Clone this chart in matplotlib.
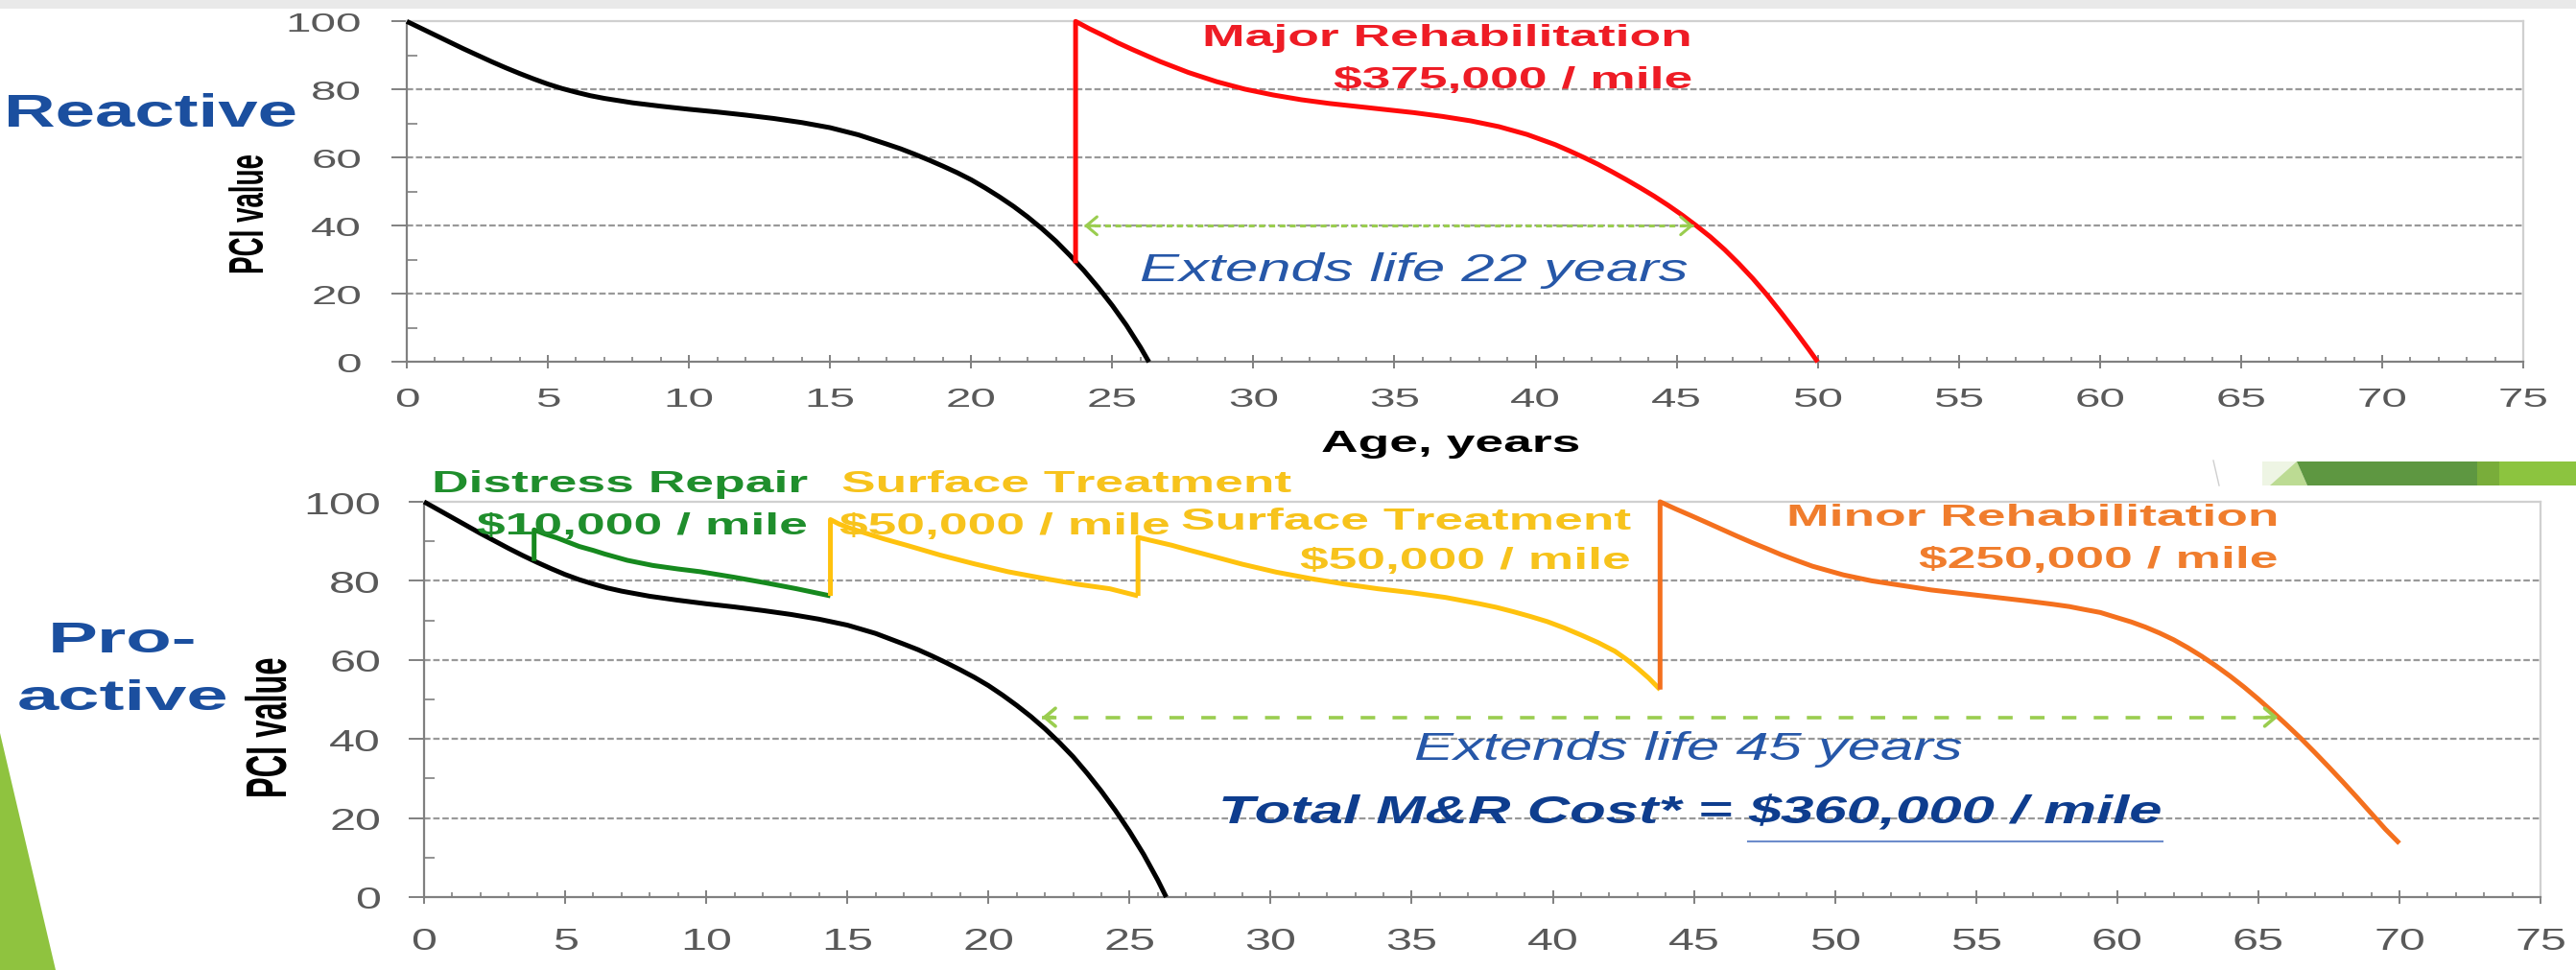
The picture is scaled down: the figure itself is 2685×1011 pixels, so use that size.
import os
import tempfile
import matplotlib
matplotlib.use("Agg")
import matplotlib.pyplot as plt
from matplotlib import font_manager
from matplotlib.font_manager import FontProperties
from matplotlib.ticker import MultipleLocator
from matplotlib.patches import Polygon, Rectangle

# ---------------- data ----------------
x_ticks = [0, 5, 10, 15, 20, 25, 30, 35, 40, 45, 50, 55, 60, 65, 70, 75]
y_ticks = [0, 20, 40, 60, 80, 100]

# do-nothing deterioration curve (black)
base_age = [0, 0.5, 1, 1.5, 2, 2.5, 3, 3.5, 4, 4.5, 5, 5.5, 6, 6.5, 7, 8, 9, 10,
            11, 12, 13, 14, 15, 16, 17, 17.5, 18, 18.5, 19, 19.5, 20, 20.5,
            21, 21.5, 22, 22.5, 23, 23.5, 24, 24.5, 25, 25.5, 26, 26.3]
base_pci = [100, 98.0, 96.0, 94.0, 92.0, 90.1, 88.2, 86.4, 84.7, 83.1, 81.6,
            80.3, 79.2, 78.2, 77.4, 76.1, 75.1, 74.2, 73.4, 72.5, 71.5, 70.3,
            68.8, 66.7, 64.0, 62.6, 61.0, 59.3, 57.5, 55.6, 53.5, 51.1, 48.5,
            45.7, 42.6, 39.2, 35.5, 31.3, 26.8, 21.9, 16.6, 10.8, 4.3, 0.0]

# reactive: major rehabilitation (red)
major_age = [23.7, 23.7, 24.2, 24.7, 25.2, 25.7, 26.7, 27.7, 28.7, 29.7, 30.7,
             31.7, 32.7, 33.7, 34.7, 35.7, 36.7, 37.7, 38.7, 39.7, 40.7, 41.2,
             41.7, 42.2, 42.7, 43.2, 43.7, 44.2, 44.7, 45.2, 45.7, 46.2, 46.7,
             47.2, 47.7, 48.2, 48.7, 49.2, 49.7, 50.0]
major_pci = [29.0, 100, 97.8, 95.8, 93.7, 91.8, 88.2, 85.0, 82.3, 80.1, 78.4,
             77.0, 75.9, 75.0, 74.1, 73.2, 72.1, 70.8, 69.1, 66.8, 63.8, 62.0,
             60.1, 58.1, 55.9, 53.6, 51.2, 48.7, 46.0, 43.1, 40.0, 36.7, 33.0,
             28.9, 24.5, 19.7, 14.5, 9.1, 3.5, 0.0]

# pro-active: distress repair (green)
distress_age = [3.9, 3.9, 4.3, 4.7, 5.1, 5.5, 6.0, 6.4, 7.2, 8.1, 9.0, 9.8,
                11.0, 12.1, 13.2, 14.4]
distress_pci = [85.0, 92.9, 91.8, 90.9, 89.8, 88.7, 87.7, 86.8, 85.2, 83.9,
                83.0, 82.3, 80.9, 79.5, 78.0, 76.2]

# pro-active: surface treatments (yellow)
surface1_age = [14.4, 14.4, 14.7, 15.1, 15.5, 16.3, 17.1, 18.3, 19.5, 20.7,
                21.9, 23.1, 24.3, 25.3]
surface1_pci = [76.2, 95.5, 94.4, 93.3, 92.4, 90.6, 89.0, 86.5, 84.3, 82.3,
                80.7, 79.2, 78.0, 76.2]
surface2_age = [25.3, 25.3, 25.9, 26.5, 27.0, 27.9, 29.0, 30.2, 31.4, 32.6,
                33.8, 35.0, 36.2, 37.4, 38.0, 38.6, 39.2, 39.8, 40.4, 41.0,
                41.6, 42.2, 42.6, 43.0, 43.4, 43.8]
surface2_pci = [76.2, 91.0, 90.0, 89.0, 88.0, 86.3, 84.2, 82.2, 80.6, 79.2,
                78.0, 77.0, 75.8, 74.2, 73.3, 72.2, 71.0, 69.7, 68.1, 66.3,
                64.4, 62.2, 60.2, 57.9, 55.4, 52.5]

# pro-active: minor rehabilitation (orange)
minor_age = [43.8, 43.8, 44.35, 44.9, 45.5, 46.0, 46.5, 47.05, 47.6, 48.1,
             48.7, 49.2, 49.8, 50.3, 51.3, 52.4, 53.4, 54.5, 55.6, 56.7, 57.7,
             58.3, 58.8, 59.4, 59.9, 60.5, 61.0, 61.5, 62.0, 62.5, 63.0, 63.5,
             64.0, 64.5, 65.0, 65.5, 66.0, 66.5, 67.0, 67.5, 68.0, 68.5, 69.0,
             69.5, 70.0]
minor_pci = [52.5, 100, 98.2, 96.5, 94.6, 93.0, 91.4, 89.7, 88.1, 86.6, 85.0,
             83.7, 82.5, 81.5, 80.0, 78.8, 77.7, 76.8, 75.9, 75.0, 74.1, 73.5,
             72.8, 72.0, 70.9, 69.6, 68.3, 66.8, 65.1, 63.1, 60.9, 58.5, 55.9,
             53.1, 50.1, 46.9, 43.6, 40.2, 36.6, 32.9, 29.1, 25.2, 21.2, 17.2,
             13.6]

# life-extension spans (age from, age to) and PCI level
extend_top_age = [24.0, 45.6]
extend_top_pci = 40
extend_bottom_age = [21.9, 65.7]
extend_bottom_pci = 45.5

# ---------------- stretched fonts (the slide image is stretched horizontally) ----
FONT_DIR = tempfile.mkdtemp()
FONT_SPECS = {
    "bold175": ("bold", "normal", 1.75, 1.0),
    "bold153": ("bold", "normal", 1.53, 1.0),
    "ital153": ("normal", "italic", 1.53, 1.0),
    "bital153": ("bold", "italic", 1.53, 1.0),
    "reg175": ("normal", "normal", 1.75, 1.0),
    "reg155": ("normal", "normal", 1.55, 1.0),
    "tall180": ("bold", "normal", 1.0, 1.8),
}
FONTS = {}


def make_font(tag, weight, style, sx, sy):
    try:
        from fontTools.ttLib import TTFont
        from fontTools.ttLib.tables import ttProgram
        src = font_manager.findfont(
            FontProperties(family="Liberation Sans", weight=weight, style=style),
            fallback_to_default=False)
        f = TTFont(src)
        glyf = f["glyf"]
        hmtx = f["hmtx"]
        order = f.getGlyphOrder()
        for gname in order:
            g = glyf[gname]
            if g.isComposite():
                for c in g.components:
                    c.x = int(round(c.x * sx))
                    c.y = int(round(c.y * sy))
            elif g.numberOfContours > 0:
                coords = g.coordinates
                for i in range(len(coords)):
                    x, y = coords[i]
                    coords[i] = (int(round(x * sx)), int(round(y * sy)))
            if hasattr(g, "program"):
                p = ttProgram.Program()
                p.fromBytecode(b"")
                g.program = p
        for gname in order:
            g = glyf[gname]
            adv, lsb = hmtx.metrics[gname]
            if g.numberOfContours != 0:
                g.recalcBounds(glyf)
                lsb = g.xMin
            else:
                lsb = int(round(lsb * sx))
            hmtx.metrics[gname] = (int(round(adv * sx)), lsb)
        if sy != 1.0:
            hh = f["hhea"]
            hh.ascent = int(round(hh.ascent * sy))
            hh.descent = int(round(hh.descent * sy))
            os2 = f["OS/2"]
            os2.sTypoAscender = int(round(os2.sTypoAscender * sy))
            os2.sTypoDescender = int(round(os2.sTypoDescender * sy))
            os2.usWinAscent = int(round(os2.usWinAscent * sy))
            os2.usWinDescent = int(round(os2.usWinDescent * sy))
        for t in ["fpgm", "prep", "cvt ", "hdmx", "LTSH", "VDMX", "kern", "GPOS", "DSIG"]:
            if t in f:
                del f[t]
        fam = "RS" + tag
        name = f["name"]
        for nid in (16, 17, 21, 22):
            name.removeNames(nameID=nid)
        sub = name.getDebugName(2) or "Regular"
        for rec in name.names:
            if rec.nameID == 1:
                rec.string = fam
            elif rec.nameID == 3:
                rec.string = fam + "-" + sub
            elif rec.nameID == 4:
                rec.string = fam + " " + sub
            elif rec.nameID == 6:
                rec.string = fam + "-" + sub.replace(" ", "")
        path = os.path.join(FONT_DIR, fam + ".ttf")
        f.save(path)
        return path
    except Exception:
        return None


for _tag, (_w, _s, _sx, _sy) in FONT_SPECS.items():
    FONTS[_tag] = make_font(_tag, _w, _s, _sx, _sy)


def fp(tag, size):
    path = FONTS.get(tag)
    if path:
        return FontProperties(fname=path, size=size)
    w, s = FONT_SPECS[tag][0], FONT_SPECS[tag][1]
    return FontProperties(family="DejaVu Sans", weight=w, style=s, size=size)


# ---------------- colours ----------------
C_BLACK = "#000000"
C_RED = "#ff0a0a"
C_RED_T = "#ee1c25"
C_GREEN = "#16891e"
C_GREEN_T = "#1f8e2c"
C_YEL = "#ffc20e"
C_YEL_T = "#f7c31c"
C_ORG = "#f4701e"
C_ORG_T = "#f07d2d"
C_ARROW = "#9acd4f"
C_BLUE_I = "#2657a8"
C_NAVY = "#0e3d8e"
C_TITLE = "#1b4f9f"
C_GRID = "#999999"
C_AX = "#808080"
C_TICKLBL = "#595959"
LW = 3.6

W, H = 2685, 1012
fig = plt.figure(figsize=(W / 100, H / 100), dpi=100, facecolor="white")

# slide decoration
bg = fig.add_axes([0, 0, 1, 1], zorder=-5)
bg.set_xlim(0, W)
bg.set_ylim(H, 0)
bg.axis("off")
bg.add_patch(Rectangle((0, 0), W, 10, color="#e9e9e9", lw=0))
bg.add_patch(Polygon([(0, 765), (0, H), (58, H)], closed=True, color="#8fc33f", lw=0))
bg.add_patch(Rectangle((2358, 482), 40, 25, color="#eef5e4", lw=0))
bg.add_patch(Polygon([(2366, 507), (2394, 482), (2405, 507)], closed=True, color="#bcdb93", lw=0))
bg.add_patch(Polygon([(2394, 482), (2582, 482), (2582, 507), (2405, 507)], closed=True,
                     color="#5e9741", lw=0))
bg.add_patch(Rectangle((2582, 482), 23, 25, color="#79ad3a", lw=0))
bg.add_patch(Rectangle((2605, 482), 80, 25, color="#8cc43f", lw=0))
bg.plot([2307, 2313], [481, 507], color="#cfcfcf", lw=1)

ax1 = fig.add_axes([424 / W, 1 - 378.3 / H, 2206 / W, 355 / H])
ax2 = fig.add_axes([442 / W, 1 - 936 / H, 2206 / W, 412 / H])


def style_axes(ax, tick_fp, xpad, ypad):
    ax.set_xlim(0, 75)
    ax.set_ylim(0, 100)
    ax.set_xticks(x_ticks)
    ax.set_xticklabels([str(v) for v in x_ticks])
    ax.set_yticks(y_ticks)
    ax.set_yticklabels([str(v) for v in y_ticks])
    ax.xaxis.set_minor_locator(MultipleLocator(1))
    ax.yaxis.set_minor_locator(MultipleLocator(10))
    for lv in y_ticks[1:-1]:
        ax.axhline(lv, color=C_GRID, lw=1.6, linestyle=(0, (3, 1.3)), zorder=0)
    for s in ("left", "bottom"):
        ax.spines[s].set_color(C_AX)
        ax.spines[s].set_linewidth(1.6)
    for s in ("top", "right"):
        ax.spines[s].set_color("#d0d0d0")
        ax.spines[s].set_linewidth(1.6)
    ax.tick_params(axis="x", which="major", direction="inout", length=10, width=1.4,
                   color=C_AX, pad=xpad, labelcolor=C_TICKLBL)
    ax.tick_params(axis="x", which="minor", direction="in", length=3.5, width=1.2, color=C_AX)
    ax.tick_params(axis="y", which="major", direction="out", length=11.5, width=1.4,
                   color=C_AX, pad=ypad, labelcolor=C_TICKLBL)
    ax.tick_params(axis="y", which="minor", direction="in", length=8, width=1.2, color=C_AX)
    for lbl in ax.get_xticklabels() + ax.get_yticklabels():
        lbl.set_fontproperties(tick_fp)


style_axes(ax1, fp("reg175", 19.5), 13.5, 22.3)
style_axes(ax2, fp("reg155", 22.5), 17.5, 20.9)


def put(ax, x, y, s, font, color, ha="left", **kw):
    return ax.text(x, y, s, fontproperties=font, color=color, ha=ha, va="baseline",
                   parse_math=False, zorder=6, clip_on=False, **kw)


def extend_arrow(ax, ages, level, lw, dash):
    ax.plot(ages, [level, level], color=C_ARROW, lw=lw, linestyle=(0, dash),
            dash_capstyle="butt", zorder=4, clip_on=False)
    for xs, xe in ((ages[0] + 0.4, ages[0]), (ages[1] - 0.4, ages[1])):
        ax.annotate("", xy=(xe, level), xytext=(xs, level),
                    arrowprops=dict(arrowstyle="->,head_length=0.5,head_width=0.42",
                                    color=C_ARROW, lw=lw, shrinkA=0, shrinkB=0,
                                    mutation_scale=16), zorder=4)


def curve(ax, xs, ys, color):
    ax.plot(xs, ys, color=color, lw=LW, clip_on=False, zorder=3,
            solid_joinstyle="round", solid_capstyle="butt")


# ---------------- top: reactive ----------------
curve(ax1, base_age, base_pci, C_BLACK)
curve(ax1, major_age, major_pci, C_RED)
extend_arrow(ax1, extend_top_age, extend_top_pci, 2.2, (2.0, 1.5))

lab = fp("bold175", 22)
put(ax1, 45.56, 93.0, "Major Rehabilitation", lab, C_RED_T, ha="right")
put(ax1, 45.56, 80.6, "$375,000 / mile", lab, C_RED_T, ha="right")
put(ax1, 35.7, 24.0, "Extends life 22 years", fp("ital153", 29), C_BLUE_I, ha="center")

ax1.text(-0.0734, 0.4375, "PCI value", transform=ax1.transAxes, rotation=90,
         ha="center", va="center", fontproperties=fp("tall180", 20), color="black")
ax1.text(0.4932, -0.262, "Age, years", transform=ax1.transAxes, ha="center",
         va="baseline", fontproperties=fp("bold175", 22), color="black")

# ---------------- bottom: pro-active ----------------
curve(ax2, base_age, base_pci, C_BLACK)
curve(ax2, distress_age, distress_pci, C_GREEN)
curve(ax2, surface1_age, surface1_pci, C_YEL)
curve(ax2, surface2_age, surface2_pci, C_YEL)
curve(ax2, minor_age, minor_pci, C_ORG)
extend_arrow(ax2, extend_bottom_age, extend_bottom_pci, 2.6, (4.2, 5.0))

put(ax2, 13.60, 102.6, "Distress Repair", lab, C_GREEN_T, ha="right")
put(ax2, 13.60, 92.0, "$10,000 / mile", lab, C_GREEN_T, ha="right")
put(ax2, 14.78, 102.6, "Surface Treatment", lab, C_YEL_T)
put(ax2, 14.72, 92.0, "$50,000 / mile", lab, C_YEL_T)
put(ax2, 42.77, 93.3, "Surface Treatment", lab, C_YEL_T, ha="right")
put(ax2, 42.77, 83.2, "$50,000 / mile", lab, C_YEL_T, ha="right")
put(ax2, 65.73, 94.1, "Minor Rehabilitation", lab, C_ORG_T, ha="right")
put(ax2, 65.70, 83.6, "$250,000 / mile", lab, C_ORG_T, ha="right")
put(ax2, 44.81, 35.0, "Extends life 45 years", fp("ital153", 29), C_BLUE_I, ha="center")

tot_fp = fp("bital153", 29)
t1 = put(ax2, 28.15, 18.9, "Total M&R Cost* =", tot_fp, C_NAVY)
t2 = ax2.annotate("$360,000 / mile", xy=(1, 0), xycoords=t1, xytext=(12, 0),
                  textcoords="offset points", ha="left", va="bottom",
                  fontproperties=tot_fp, color=C_NAVY, parse_math=False,
                  annotation_clip=False, zorder=6)

ax2.text(-0.0721, 0.432, "PCI value", transform=ax2.transAxes, rotation=90,
         ha="center", va="center", fontproperties=fp("tall180", 23.5), color="black")

# side titles
fig.text(4 / W, 1 - 132 / H, "Reactive", fontproperties=fp("bold153", 35),
         color=C_TITLE, ha="left", va="baseline")
fig.text(128 / W, 1 - 680.5 / H, "Pro-", fontproperties=fp("bold175", 32),
         color=C_TITLE, ha="center", va="baseline")
fig.text(128 / W, 1 - 740 / H, "active", fontproperties=fp("bold175", 32),
         color=C_TITLE, ha="center", va="baseline")

# underline under the cost figure
fig.canvas.draw()
rend = fig.canvas.get_renderer()
bb = t2.get_window_extent(rend)
inv = ax2.transData.inverted()
xa = inv.transform((bb.x0, bb.y0))[0]
xb = inv.transform((bb.x1, bb.y0))[0]
ax2.plot([xa, xb], [14.0, 14.0], color="#6d8ccb", lw=1.5, clip_on=False, zorder=6)

fig.savefig("out.png", dpi=100, facecolor="white")
